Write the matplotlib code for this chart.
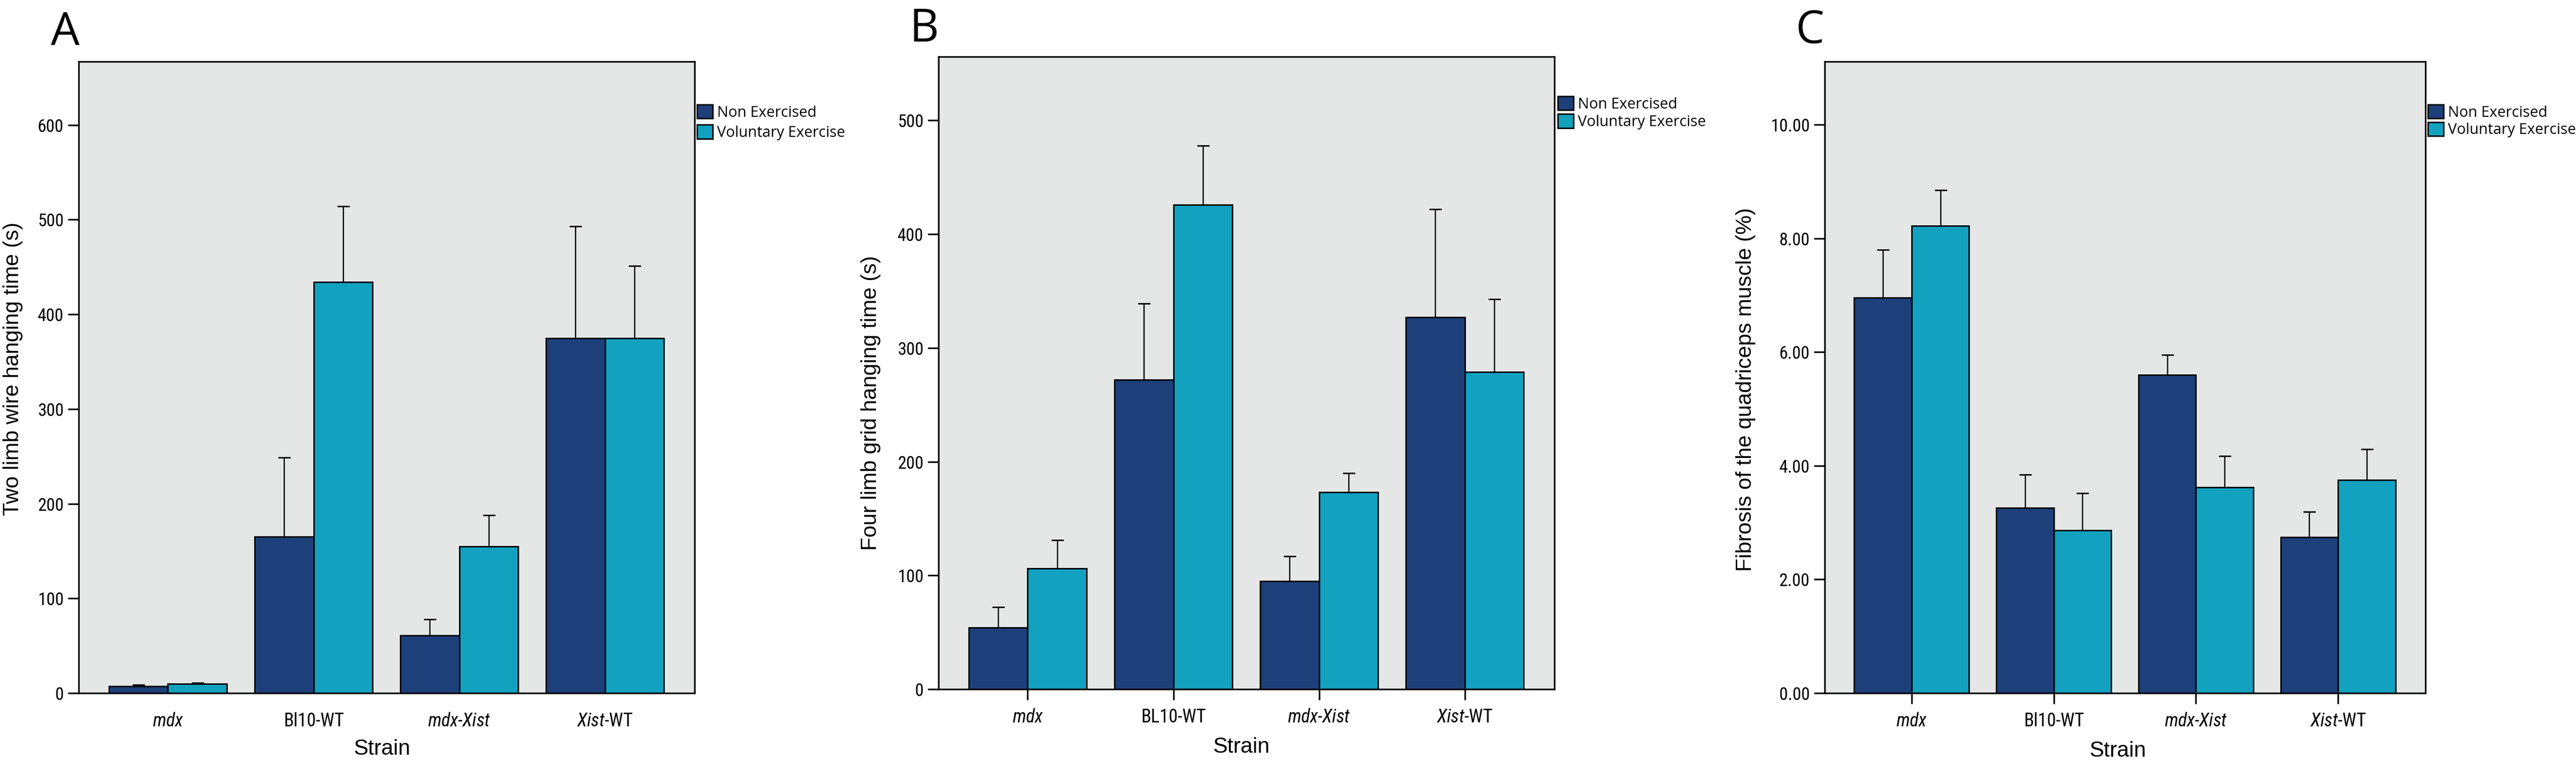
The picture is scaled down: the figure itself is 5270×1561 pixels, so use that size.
import matplotlib
matplotlib.use('Agg')
import matplotlib.pyplot as plt
from matplotlib import font_manager
import numpy as np

# data
strains = ['mdx', 'Bl10-WT', 'mdx-Xist', 'Xist-WT']
strains_b = ['mdx', 'BL10-WT', 'mdx-Xist', 'Xist-WT']
groups = ['Non Exercised', 'Voluntary Exercise']

# A: two limb wire hanging time (s)
wire_non = [7, 165, 61, 375]
wire_non_upper = [9, 249, 78, 493]
wire_vol = [10, 434, 155, 375]
wire_vol_upper = [11, 514, 188, 451]

# B: four limb grid hanging time (s)
grid_non = [54, 272, 95, 327]
grid_non_upper = [72, 339, 117, 422]
grid_vol = [106, 426, 173, 279]
grid_vol_upper = [131, 478, 190, 343]

# C: fibrosis (%)
fib_non = [6.96, 3.26, 5.60, 2.74]
fib_non_upper = [7.80, 3.84, 5.95, 3.19]
fib_vol = [8.22, 2.86, 3.62, 3.75]
fib_vol_upper = [8.85, 3.52, 4.17, 4.29]

c_non = '#1E407A'
c_vol = '#13A1C0'
bg = '#E5E7E6'

installed = {f.name for f in font_manager.fontManager.ttflist}


def pick(*names):
    for n in names:
        if n in installed:
            return n
    return 'DejaVu Sans'


narrow = pick('Liberation Sans Narrow', 'Roboto Condensed', 'Open Sans', 'Roboto')
arial = pick('Liberation Sans', 'Arial', 'DejaVu Sans')
myriad = pick('Open Sans', 'Lato', 'Noto Sans')

plt.rcParams['mathtext.fontset'] = 'custom'
plt.rcParams['mathtext.rm'] = narrow
plt.rcParams['mathtext.it'] = narrow + ':italic'


def xlabels(names):
    out = []
    for s in names:
        if s == 'mdx':
            out.append(r'$\mathit{mdx}$')
        elif s == 'mdx-Xist':
            out.append(r'$\mathit{mdx}$-$\mathit{Xist}$')
        elif s == 'Xist-WT':
            out.append(r'$\mathit{Xist}$-WT')
        else:
            out.append(s)
    return out


fig = plt.figure(figsize=(52.7, 15.61), dpi=100)
W, H = 5270, 1561


def panel(rect, names, non, non_up, vol, vol_up, ytop, yticks, fmt, ylabel,
          letter, letter_xy, leg_xy, leg_sp, ylab_xy, xlab_xy, xticks_on):
    l, t, r, b = rect
    ax = fig.add_axes([l / W, 1 - b / H, (r - l) / W, (b - t) / H])
    ax.set_facecolor(bg)
    x = np.arange(len(names))
    w = 0.404
    ax.bar(x - w / 2, non, w, color=c_non, edgecolor='black', linewidth=2.2,
           label=groups[0], zorder=2)
    ax.bar(x + w / 2, vol, w, color=c_vol, edgecolor='black', linewidth=2.2,
           label=groups[1], zorder=2)
    for xs, m, u in [(x - w / 2, non, non_up), (x + w / 2, vol, vol_up)]:
        m = np.array(m)
        u = np.array(u)
        ax.errorbar(xs, m, yerr=[np.zeros_like(m), u - m], fmt='none',
                    ecolor='black', elinewidth=1.8, capsize=9, capthick=2.2,
                    zorder=3)
    ax.set_xlim(-0.612, 3.615)
    ax.set_ylim(0, ytop)
    ax.set_yticks(yticks)
    ax.set_yticklabels([fmt.format(v) for v in yticks], fontsize=26,
                       family=narrow)
    ax.set_xticks(x)
    ax.set_xticklabels(xlabels(names), fontsize=27, family=narrow)
    for s in ax.spines.values():
        s.set_linewidth(2.4)
    ax.tick_params(axis='y', length=16, width=2.4, pad=6)
    if xticks_on:
        ax.tick_params(axis='x', length=16, width=2.4, pad=12)
    else:
        ax.tick_params(axis='x', length=0, pad=28)
    ax.set_ylabel(ylabel, fontsize=32, family=arial)
    ax.set_xlabel('Strain', fontsize=32, family=arial)
    ax.yaxis.set_label_coords((ylab_xy[0] - l) / (r - l),
                              (b - ylab_xy[1]) / (b - t))
    ax.xaxis.set_label_coords((xlab_xy[0] - l) / (r - l),
                              (b - xlab_xy[1]) / (b - t))
    ax.legend(loc='upper left', bbox_to_anchor=(leg_xy[0] / W, 1 - leg_xy[1] / H),
              bbox_transform=fig.transFigure, frameon=False, borderpad=0,
              borderaxespad=0, handlelength=1.05, handleheight=1.05,
              handletextpad=0.3, labelspacing=leg_sp,
              prop={'family': myriad, 'size': 22})
    fig.text(letter_xy[0] / W, 1 - letter_xy[1] / H, letter, fontsize=67,
             family=myriad, va='baseline', ha='left')
    return ax


panel((161, 126, 1421, 1418), strains, wire_non, wire_non_upper, wire_vol,
      wire_vol_upper, 667, [0, 100, 200, 300, 400, 500, 600], '{:d}',
      'Two limb wire hanging time (s)', 'A', (104, 92), (1426, 214), 0.32,
      (47, 755), (782, 1512), False)

panel((1920, 116, 3180, 1410), strains_b, grid_non, grid_non_upper, grid_vol,
      grid_vol_upper, 556, [0, 100, 200, 300, 400, 500], '{:d}',
      'Four limb grid hanging time (s)', 'B', (1861, 85), (3187, 197), 0.15,
      (1802, 825), (2540, 1508), True)

panel((3733, 126, 4962, 1418), strains, fib_non, fib_non_upper, fib_vol,
      fib_vol_upper, 11.11, [0, 2, 4, 6, 8, 10], '{:.2f}',
      'Fibrosis of the quadriceps muscle (%)', 'C', (3673, 88), (4967, 214), 0.13,
      (3592, 797), (4333, 1516), True)

fig.savefig('out.png', dpi=100)
